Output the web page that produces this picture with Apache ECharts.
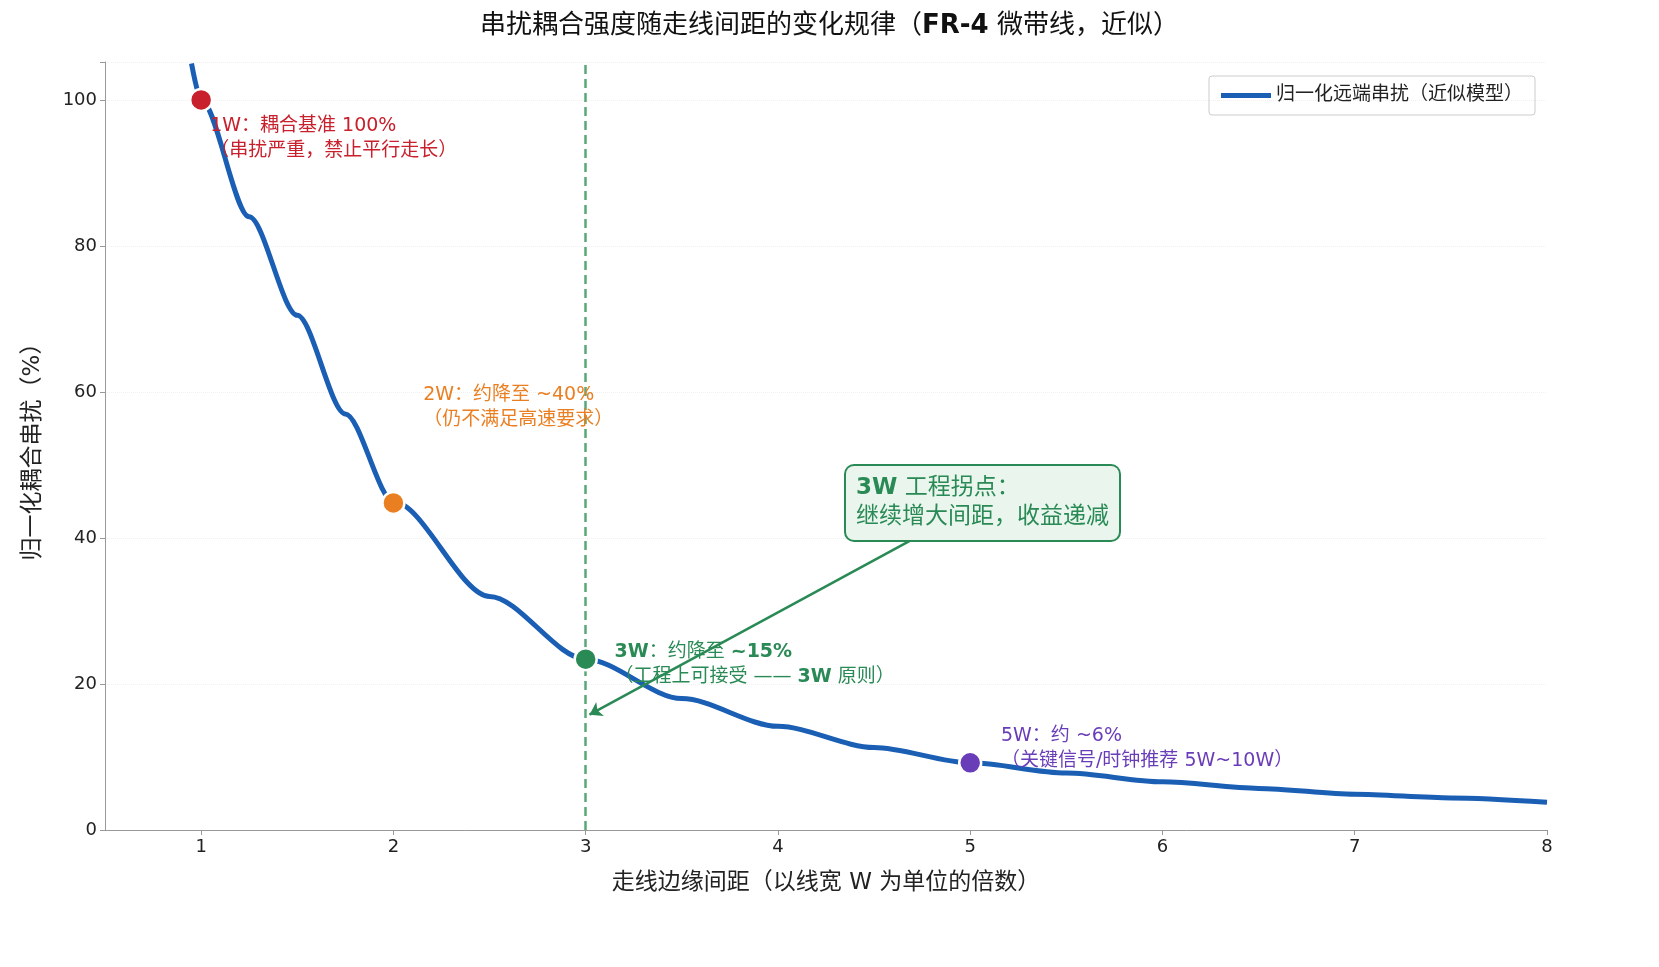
<!DOCTYPE html>
<html lang="zh">
<head>
<meta charset="utf-8">
<title>串扰耦合强度</title>
<script src="https://cdn.jsdelivr.net/npm/echarts@6/dist/echarts.min.js"></script>
<style>
html, body, #main { width: 100%; height: 100%; margin: 0; padding: 0; background: #fff; }
</style>
</head>
<body>
<div id="main"></div>
<script>
// 曲线采样
var spacing = [0.95, 1, 1.25, 1.5, 1.75, 2, 2.5, 3, 3.5, 4, 4.5, 5, 5.5, 6, 6.5, 7, 7.5, 8];
var crosstalk = [105, 100, 84, 70.5, 57, 45, 32, 23.4, 18, 14.2, 11.3, 9.2, 7.8, 6.6, 5.7, 4.9, 4.4, 3.8];
// 关键点
var keyX = [1, 2, 3, 5];
var keyY = [100, 44.8, 23.4, 9.2];
var keyColors = ['#c8202c', '#ea7f22', '#2a8a55', '#6a3db8'];
var yTicks = [0, 20, 40, 60, 80, 100];
var xTicks = [1, 2, 3, 4, 5, 6, 7, 8];

var F = '"DejaVu Sans", "Noto Sans CJK SC", sans-serif';
var chart = echarts.init(document.getElementById('main'));

function note(x, y, text, color, rich) {
    return {
        type: 'scatter', data: [[x, y]], symbolSize: 0, silent: true, z: 5,
        itemStyle: { opacity: 1 },
        label: {
            show: true, position: 'inside', align: 'left', verticalAlign: 'middle',
            formatter: text, color: color, fontSize: 19, fontFamily: F, lineHeight: 25,
            rich: rich || {}
        }
    };
}

var pts = keyX.map(function (x, i) {
    return { value: [x, keyY[i]], itemStyle: { color: keyColors[i], opacity: 1 } };
});

var option = {
    backgroundColor: '#fff',
    animation: false,
    title: {
        text: '串扰耦合强度随走线间距的变化规律（{b|FR-4} 微带线，近似）',
        left: 'center', top: 8,
        textStyle: { fontSize: 26, fontWeight: 'normal', fontFamily: F, color: '#111',
            rich: { b: { fontSize: 26, fontWeight: 'bold', fontFamily: F, color: '#111' } } }
    },
    legend: {
        right: 124, top: 76, itemWidth: 50, itemHeight: 5,
        borderColor: '#ccc', borderWidth: 1, borderRadius: 3, padding: [10, 12],
        textStyle: { fontSize: 19, fontFamily: F, color: '#222' },
        data: [{ name: '归一化远端串扰（近似模型）', icon: 'rect' }]
    },
    grid: { left: 105, right: 112, top: 62, bottom: 137 },
    xAxis: {
        type: 'value', min: 0.5, max: 8,
        name: '走线边缘间距（以线宽 W 为单位的倍数）', nameLocation: 'middle', nameGap: 42,
        nameTextStyle: { fontSize: 23, fontFamily: F, color: '#222' },
        axisLine: { lineStyle: { color: '#999' } },
        axisTick: { customValues: xTicks, lineStyle: { color: '#999' } },
        axisLabel: { customValues: xTicks, fontSize: 18, color: '#222', fontFamily: F },
        splitLine: { show: false }
    },
    yAxis: {
        type: 'value', min: 0, max: 105.2, interval: 20,
        name: '归一化耦合串扰（%）', nameLocation: 'middle', nameGap: 60,
        nameTextStyle: { fontSize: 23, fontFamily: F, color: '#222' },
        axisLine: { show: true, lineStyle: { color: '#999' } },
        axisTick: { show: true, lineStyle: { color: '#999' } },
        axisLabel: { fontSize: 18, color: '#222', fontFamily: F,
            formatter: function (v) { return yTicks.indexOf(v) >= 0 ? v : ''; } },
        splitLine: { show: true, lineStyle: { color: '#f0f0f0', type: 'dotted' } }
    },
    series: [
        {
            name: '归一化远端串扰（近似模型）', type: 'line', smooth: 0.3, smoothMonotone: 'x',
            showSymbol: false,
            data: spacing.map(function (x, i) { return [x, crosstalk[i]]; }),
            lineStyle: { color: '#1b5fb5', width: 5 }, itemStyle: { color: '#1b5fb5' }, clip: true,
            markLine: {
                silent: true, symbol: 'none', label: { show: false },
                lineStyle: { color: '#5aa878', type: [9, 5], width: 2.5 },
                data: [{ xAxis: 3 }]
            }
        },
        {
            type: 'line', data: [], silent: true,
            markLine: {
                silent: true, symbol: ['none', 'arrow'], symbolSize: 12, label: { show: false },
                lineStyle: { color: '#2a8a55', type: 'solid', width: 2.5 },
                data: [[{ coord: [4.7, 39.8] }, { coord: [3.02, 15.8] }]]
            }
        },
        {
            type: 'scatter', data: pts, symbolSize: 22, z: 6,
            itemStyle: { borderColor: '#fff', borderWidth: 2.5, opacity: 1 }
        },
        note(1.047, 94.7, '1W：耦合基准 100%\n（串扰严重，禁止平行走长）', keyColors[0]),
        note(2.155, 57.8, '2W：约降至 ~40%\n（仍不满足高速要求）', keyColors[1]),
        note(3.15, 22.6, '{b|3W}：约降至 {b|~15%}\n（工程上可接受 —— {b|3W} 原则）', keyColors[2],
            { b: { fontWeight: 'bold', fontSize: 19, fontFamily: F, color: keyColors[2] } }),
        note(5.16, 11.1, '5W：约 ~6%\n（关键信号/时钟推荐 5W~10W）', keyColors[3])
    ],
    graphic: [{
        type: 'text', left: 844, top: 464, z: 10,
        style: {
            text: '{b|3W} 工程拐点：\n继续增大间距，收益递减',
            fill: '#2a8a55', fontSize: 23, fontFamily: F, lineHeight: 29,
            backgroundColor: '#eaf5ee', borderColor: '#2a8a55', borderWidth: 2, borderRadius: 8,
            padding: [8, 10, 8, 10],
            rich: { b: { fontWeight: 'bold', fontSize: 23, fontFamily: F, fill: '#2a8a55' } }
        }
    }]
};
chart.setOption(option);
</script>
</body>
</html>
